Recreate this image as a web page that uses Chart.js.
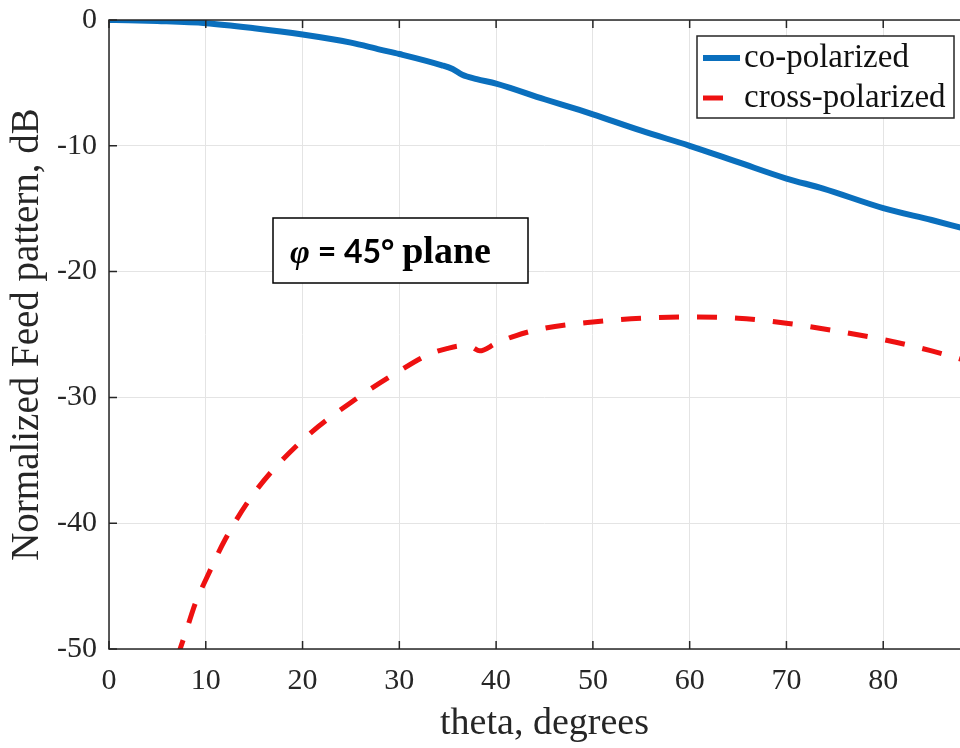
<!DOCTYPE html>
<html>
<head>
<meta charset="utf-8">
<script src="https://cdn.jsdelivr.net/npm/chart.js@4/dist/chart.umd.min.js"></script>
<style>
  html, body { margin: 0; padding: 0; background: #fff; overflow: hidden; }
  #wrap { width: 960px; height: 748px; overflow: hidden; }
  canvas { display: block; }
</style>
</head>
<body>
<div id="wrap"><canvas id="pattern" width="1000" height="748"></canvas></div>
<script>
// Feed pattern cuts, phi = 45 deg plane
const thetaCo = [0, 2, 5, 10, 15, 20, 25, 28, 30, 34.4, 35.5, 36.5, 38, 40, 45, 48.6, 50, 55, 60, 65, 70, 73.8, 80, 85, 88, 90];
const coPolarized = [0, -0.02, -0.08, -0.25, -0.65, -1.15, -1.8, -2.35, -2.7, -3.6, -3.9, -4.35, -4.7, -5.05, -6.3, -7.15, -7.5, -8.8, -10.0, -11.3, -12.6, -13.4, -14.95, -15.9, -16.5, -16.9];

const thetaCross = [7, 8, 9, 10, 12, 15, 20, 25, 30, 33, 35, 36.5, 37.5, 38.3, 40, 42, 45, 50, 55, 60, 65, 70, 75, 80, 85, 90];
const crossPolarized = [-50.8, -48.5, -46.2, -44.5, -41.3, -37.6, -33.4, -30.4, -27.9, -26.6, -26.1, -25.9, -26.0, -26.3, -25.7, -25.1, -24.5, -24.0, -23.7, -23.6, -23.7, -24.1, -24.7, -25.4, -26.3, -27.4];

const xTicks = [0, 10, 20, 30, 40, 50, 60, 70, 80, 90];
const yTicks = [-50, -40, -30, -20, -10, 0];

const SERIF = "'Liberation Serif', 'Times New Roman', serif";
const AXIS = '#262626';
const BLUE = '#0a6fbd';
const RED = '#ee1111';
const DASH = [20, 18];

const pts = (xs, ys) => xs.map((x, i) => ({ x, y: ys[i] }));

// box around the axes with inward tick marks
const axesBox = {
  id: 'axesBox',
  afterDatasetsDraw(chart) {
    const { ctx, chartArea: a, scales: { x, y } } = chart;
    ctx.save();
    ctx.strokeStyle = AXIS;
    ctx.lineWidth = 1.5;
    ctx.strokeRect(a.left, a.top, a.right - a.left, a.bottom - a.top);
    ctx.beginPath();
    xTicks.forEach(v => {
      const px = x.getPixelForValue(v);
      ctx.moveTo(px, a.bottom); ctx.lineTo(px, a.bottom - 8);
      ctx.moveTo(px, a.top); ctx.lineTo(px, a.top + 8);
    });
    yTicks.forEach(v => {
      const py = y.getPixelForValue(v);
      ctx.moveTo(a.left, py); ctx.lineTo(a.left + 8, py);
      ctx.moveTo(a.right, py); ctx.lineTo(a.right - 8, py);
    });
    ctx.stroke();
    ctx.restore();
  }
};

// legend in the top-right corner and the plane label
const overlays = {
  id: 'overlays',
  afterDraw(chart) {
    const { ctx, chartArea: a } = chart;
    ctx.save();

    // legend
    const lx = a.left + 588, ly = a.top + 16, lw = 257, lh = 82;
    ctx.fillStyle = '#fff';
    ctx.fillRect(lx, ly, lw, lh);
    ctx.strokeStyle = AXIS;
    ctx.lineWidth = 1.5;
    ctx.strokeRect(lx, ly, lw, lh);
    ctx.font = '33px ' + SERIF;
    ctx.textBaseline = 'middle';
    chart.data.datasets.forEach((ds, i) => {
      const yy = ly + 22 + i * 40;
      ctx.beginPath();
      ctx.strokeStyle = ds.borderColor;
      ctx.lineWidth = ds.borderWidth;
      ctx.setLineDash(ds.borderDash || []);
      ctx.moveTo(lx + 6, yy);
      ctx.lineTo(lx + 43, yy);
      ctx.stroke();
      ctx.setLineDash([]);
      ctx.fillStyle = '#111';
      ctx.fillText(ds.label, lx + 47, yy);
    });

    // plane label
    const bx = a.left + 164, by = a.top + 198, bw = 255, bh = 65;
    ctx.fillStyle = '#fff';
    ctx.fillRect(bx, by, bw, bh);
    ctx.strokeStyle = '#000';
    ctx.lineWidth = 1.5;
    ctx.strokeRect(bx, by, bw, bh);
    ctx.fillStyle = '#000';
    ctx.textBaseline = 'alphabetic';
    const parts = [
      { t: 'φ', f: 'italic bold 34px ' + SERIF },
      { t: ' = 45° ', f: "bold 32px Lato, 'Liberation Sans', sans-serif" },
      { t: 'plane', f: 'bold 38px ' + SERIF }
    ];
    let tx = bx + 17;
    parts.forEach(p => {
      ctx.font = p.f;
      ctx.fillText(p.t, tx, by + 45);
      tx += ctx.measureText(p.t).width;
    });
    ctx.restore();
  }
};

new Chart(document.getElementById('pattern'), {
  type: 'line',
  data: {
    datasets: [
      {
        label: 'co-polarized',
        data: pts(thetaCo, coPolarized),
        borderColor: BLUE,
        borderWidth: 6,
        pointRadius: 0,
        cubicInterpolationMode: 'monotone'
      },
      {
        label: 'cross-polarized',
        data: pts(thetaCross, crossPolarized),
        borderColor: RED,
        borderWidth: 5,
        borderDash: DASH,
        borderCapStyle: 'butt',
        pointRadius: 0,
        cubicInterpolationMode: 'monotone'
      }
    ]
  },
  options: {
    responsive: false,
    animation: false,
    layout: { padding: 0 },
    plugins: { legend: { display: false }, tooltip: { enabled: false } },
    scales: {
      x: {
        type: 'linear',
        min: 0,
        max: 90,
        afterFit: s => { s.height = 99; s.paddingRight = 20; },
        afterBuildTicks: s => { s.ticks = xTicks.map(v => ({ value: v })); },
        grid: { color: '#e4e4e4', lineWidth: 1, drawTicks: false },
        border: { display: false },
        ticks: { font: { family: SERIF, size: 30 }, color: AXIS, padding: 14, maxRotation: 0 },
        title: {
          display: true,
          text: 'theta, degrees',
          font: { family: SERIF, size: 38 },
          color: AXIS,
          padding: { top: 0, bottom: 1 }
        }
      },
      y: {
        type: 'linear',
        min: -50,
        max: 0,
        afterFit: s => { s.width = 109; s.paddingTop = 20; },
        afterBuildTicks: s => { s.ticks = yTicks.map(v => ({ value: v })); },
        grid: { color: '#e4e4e4', lineWidth: 1, drawTicks: false },
        border: { display: false },
        ticks: { font: { family: SERIF, size: 30 }, color: AXIS, padding: 12 },
        title: {
          display: true,
          text: 'Normalized Feed pattern, dB',
          font: { family: SERIF, size: 39 },
          color: AXIS,
          padding: { top: 4, bottom: 0 }
        }
      }
    }
  },
  plugins: [axesBox, overlays]
});
</script>
</body>
</html>
